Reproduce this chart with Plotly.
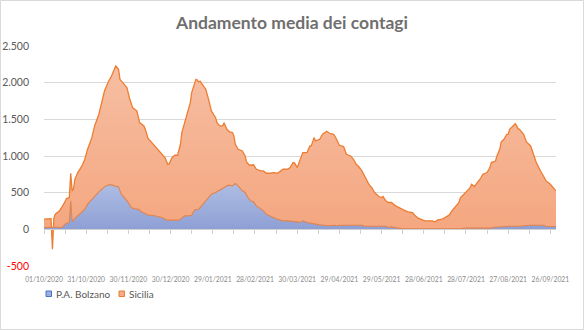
import pandas as pd
import plotly.graph_objects as go

start = pd.Timestamp("2020-10-01")

# Sicilia: day offset from 01/10/2020 and 7-day average of new cases
sic_days = [0, 5, 6, 7, 8, 11, 14, 16, 18, 19, 20, 21, 22, 24, 27, 29, 31, 34, 36, 39, 41, 43, 46, 48, 50, 51,
            53, 54, 56, 59, 61, 63, 66, 68, 71, 72, 74, 77, 79, 81, 84, 86, 88, 89, 91, 93, 95, 96, 97, 98, 100,
            101, 103, 104, 105, 107, 108, 109, 110, 111, 112, 113, 115, 117, 119, 122, 123, 125, 127, 128, 130,
            132, 134, 135, 136, 138, 141, 143, 144, 146, 149, 151, 154, 156, 158, 161, 163, 166, 168, 170, 173,
            175, 177, 178, 180, 182, 184, 187, 189, 190, 192, 193, 196, 198, 201, 203, 206, 208, 210, 213, 215,
            218, 220, 222, 224, 226, 228, 231, 233, 235, 238, 240, 241, 243, 245, 247, 250, 252, 254, 257, 259,
            262, 264, 266, 269, 271, 273, 276, 278, 280, 283, 285, 288, 290, 292, 295, 296, 299, 300, 303, 304,
            305, 306, 308, 310, 312, 315, 317, 318, 321, 322, 324, 325, 327, 329, 330, 331, 334, 335, 336, 337,
            338, 341, 343, 346, 348, 350, 353, 355, 357, 360, 362, 364]
sic_vals = [140, 145, -270, 150, 207, 252, 343, 420, 433, 765, 524, 556, 683, 774, 865, 956, 1092, 1250, 1410,
            1569, 1727, 1886, 2022, 2090, 2182, 2227, 2182, 2045, 2000, 1931, 1773, 1659, 1614, 1455, 1410, 1364,
            1240, 1173, 1137, 1092, 1032, 977, 887, 895, 977, 1010, 1010, 1069, 1160, 1319, 1455, 1546, 1659,
            1727, 1864, 1977, 2045, 2036, 2009, 2022, 1991, 1977, 1909, 1773, 1614, 1523, 1455, 1410, 1410, 1455,
            1364, 1328, 1319, 1274, 1160, 1092, 1069, 1001, 919, 874, 880, 819, 796, 796, 765, 765, 774, 765, 796,
            819, 819, 842, 910, 910, 842, 932, 1046, 1046, 1137, 1137, 1251, 1205, 1228, 1296, 1337, 1310, 1296,
            1228, 1146, 1128, 1023, 1001, 955, 887, 850, 796, 728, 614, 569, 501, 447, 433, 447, 388, 366, 366,
            320, 298, 275, 252, 239, 229, 184, 152, 129, 116, 116, 116, 102, 129, 138, 161, 193, 252, 298, 366,
            430, 490, 502, 569, 614, 601, 583, 638, 683, 751, 774, 842, 910, 932, 1001, 1092, 1191, 1228, 1296,
            1296, 1364, 1419, 1441, 1410, 1373, 1364, 1296, 1191, 1137, 1023, 910, 796, 728, 660, 614, 569, 524]

# P.A. Bolzano
bz_days = [0, 5, 7, 13, 15, 17, 18, 19, 20, 22, 24, 27, 29, 31, 34, 36, 39, 41, 43, 46, 48, 50, 53, 55, 57, 60,
           62, 65, 67, 70, 72, 74, 77, 79, 81, 84, 86, 88, 96, 98, 100, 103, 105, 107, 110, 112, 115, 117, 119,
           122, 124, 126, 129, 131, 134, 136, 138, 141, 143, 145, 147, 149, 151, 154, 156, 158, 161, 163, 166,
           168, 170, 173, 177, 180, 182, 184, 187, 189, 192, 194, 196, 199, 201, 203, 206, 208, 210, 220, 226,
           228, 243, 245, 247, 250, 256, 296, 300, 318, 320, 331, 338, 345, 355, 357, 364]
bz_vals = [25, 25, 30, 30, 70, 95, 100, 388, 106, 150, 184, 240, 275, 343, 410, 456, 511, 545, 579, 606, 606,
           593, 579, 479, 434, 365, 297, 275, 275, 230, 215, 193, 193, 184, 175, 161, 138, 125, 125, 161, 184,
           184, 193, 265, 275, 320, 388, 434, 479, 502, 525, 556, 583, 602, 593, 624, 593, 525, 502, 434, 388,
           375, 320, 275, 252, 207, 175, 161, 138, 129, 116, 116, 111, 102, 93, 116, 93, 84, 79, 70, 61, 56, 48,
           48, 56, 48, 56, 56, 56, 43, 43, 25, 34, 20, 8, 6, 16, 16, 29, 43, 43, 56, 56, 43, 38]

tick_days = [0, 30, 60, 90, 120, 150, 180, 210, 240, 270, 300, 330, 360]
tick_text = ["01/10/2020", "31/10/2020", "30/11/2020", "30/12/2020", "29/01/2021", "28/02/2021",
             "30/03/2021", "29/04/2021", "29/05/2021", "28/06/2021", "28/07/2021", "27/08/2021", "26/09/2021"]
y_ticks = [-500, 0, 500, 1000, 1500, 2000, 2500]
y_text = ["<span style='color:#ff0000'>-500</span>", "0", "500", "1.000", "1.500", "2.000", "2.500"]

series_names = ["P.A. Bolzano", "Sicilia"]

to_date = lambda d: start + pd.Timedelta(days=d)
sic_x = [to_date(d) for d in sic_days]
bz_x = [to_date(d) for d in bz_days]
tick_x = [to_date(d) for d in tick_days]
end_x = to_date(364)

FONT = "Lato"
L, R, T, B, W, H = 44, 28, 46, 64, 584, 330
PW, PH = W - L - R, H - T - B
px = lambda x: (x - L) / PW
py = lambda y: (H - B - y) / PH

fig = go.Figure()
fig.add_trace(go.Scatter(
    x=sic_x, y=sic_vals, name=series_names[1], mode="lines", fill="tozeroy",
    line=dict(color="#ed7d31", width=1.3),
    fillgradient=dict(type="vertical", colorscale=[[0, "#f4a47c"], [1, "#f6bea2"]]),
    hoverinfo="skip", showlegend=False))
fig.add_trace(go.Scatter(
    x=bz_x, y=bz_vals, name=series_names[0], mode="lines", fill="tozeroy",
    line=dict(color="#e0844e", width=1.1),
    fillgradient=dict(type="vertical", colorscale=[[0, "#8e9fd5"], [1, "#aebde3"]]),
    hoverinfo="skip", showlegend=False))
# carrier for the zero-level category axis with tick marks
fig.add_trace(go.Scatter(x=[start, end_x], y=[None, None], xaxis="x2", mode="lines",
                         showlegend=False, hoverinfo="skip"))

# legend drawn as small squares + labels (Excel-like)
legend_items = [(series_names[0], 46, "#9eaedd", "#4472c4"), (series_names[1], 119, "#f4ad88", "#ed7d31")]
shapes = [dict(type="rect", xref="paper", yref="paper",
               x0=px(0.5), x1=px(W - 0.5), y0=py(H - 0.5), y1=py(0.5),
               line=dict(color="#d9d9d9", width=1), fillcolor="rgba(0,0,0,0)", layer="below")]
annotations = []
for name, x0, fc, lc in legend_items:
    shapes.append(dict(type="rect", xref="paper", yref="paper", x0=px(x0), x1=px(x0 + 5.5),
                       y0=py(296.5), y1=py(291), fillcolor=fc, line=dict(color=lc, width=1)))
    annotations.append(dict(text=name, xref="paper", yref="paper", x=px(x0 + 8), y=py(294),
                            xanchor="left", yanchor="middle", showarrow=False,
                            font=dict(size=10, color="#595959", family=FONT)))

fig.update_layout(
    width=W, height=H,
    margin=dict(l=L, r=R, t=T, b=B, autoexpand=False),
    paper_bgcolor="white", plot_bgcolor="white",
    font=dict(family=FONT, color="#595959"),
    showlegend=False,
    title=dict(text="<b>Andamento media dei contagi</b>", x=0.5, xanchor="center",
               y=1 - 23 / H, yanchor="middle", font=dict(size=17.5, color="#6f6f6f", family=FONT)),
    xaxis=dict(type="date", range=[start, end_x], tickvals=tick_x, ticktext=tick_text,
               ticks="", showgrid=False, showline=False, zeroline=False, ticklabelstandoff=8,
               automargin=False,
               tickfont=dict(size=6.8, color="#8a8a8a", family=FONT), tickangle=0),
    xaxis2=dict(type="date", range=[start, end_x], overlaying="x", anchor="free",
                position=500 / 3000, side="bottom", showticklabels=False, ticks="outside",
                ticklen=4, tickcolor="#d0d0d0", tick0=start, dtick=15 * 86400000, automargin=False,
                showline=True, linecolor="#d0d0d0", linewidth=1, showgrid=False, zeroline=False),
    yaxis=dict(range=[-500, 2500], tickvals=y_ticks, ticktext=y_text, showgrid=True,
               gridcolor="#d9d9d9", gridwidth=1, zeroline=False, showline=False, ticks="",
               automargin=False,
               ticklabelstandoff=14, tickfont=dict(size=10.5, color="#595959", family=FONT)),
    shapes=shapes,
    annotations=annotations,
)

fig.write_html("out.html")
